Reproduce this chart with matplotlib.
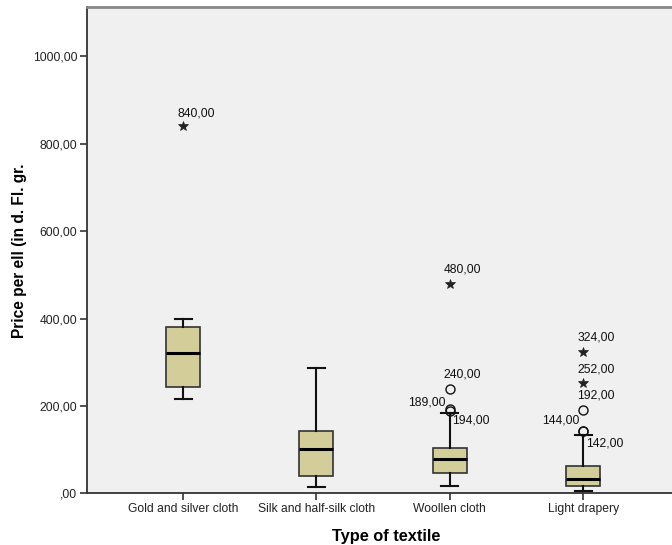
import matplotlib
matplotlib.use("Agg")
import matplotlib.pyplot as plt

plt.rcParams['font.family'] = ['Liberation Sans', 'DejaVu Sans']

categories = ["Gold and silver cloth", "Silk and half-silk cloth", "Woollen cloth", "Light drapery"]
whisker_low = [216, 14, 16, 5]
q1 = [243, 39, 48, 18]
median = [321, 101, 78, 34]
q3 = [381, 142, 103, 64]
whisker_high = [399, 287, 183, 133]

# mild outliers (circles) and extreme values (stars), with their labels
mild_values = [[], [], [189, 194, 240], [142, 144, 192]]
extreme_values = [[840], [], [480], [252, 324]]

y_ticks = [0, 200, 400, 600, 800, 1000]
y_tick_labels = [",00", "200,00", "400,00", "600,00", "800,00", "1000,00"]

box_fill = "#D3CE99"
positions = list(range(1, len(categories) + 1))

fig = plt.figure(figsize=(6.72, 5.45), dpi=100)
ax = fig.add_axes([0.1295, 0.0945, 0.8905, 0.8925])
ax.set_facecolor("#F0F0F0")

stats = []
for i in range(len(categories)):
    stats.append(dict(med=median[i], q1=q1[i], q3=q3[i],
                      whislo=whisker_low[i], whishi=whisker_high[i], fliers=[]))

ax.bxp(stats, positions=positions, widths=0.255, capwidths=0.128,
       patch_artist=True, showfliers=False,
       boxprops=dict(facecolor=box_fill, edgecolor="#333333", linewidth=1.2),
       medianprops=dict(color="black", linewidth=2.2),
       whiskerprops=dict(color="#111111", linewidth=1.5),
       capprops=dict(color="#111111", linewidth=1.5))

txt = dict(fontsize=8.7, color="#111111")
for pos, vals in zip(positions, mild_values):
    for v in vals:
        ax.plot(pos, v, marker="o", markersize=6.5, markerfacecolor="none",
                markeredgecolor="#111111", markeredgewidth=1.0, linestyle="none")

for pos, vals in zip(positions, extreme_values):
    for v in vals:
        ax.plot(pos, v, marker="*", markersize=7.5, markerfacecolor="#222222",
                markeredgecolor="#222222", markeredgewidth=0.5, linestyle="none")


def fmt(v):
    return f"{v:.2f}".replace(".", ",")


# value labels next to the outlying points
def label(pos, v, dx, dy, ha):
    ax.annotate(fmt(v), (pos, v), xytext=(dx, dy), textcoords="offset pixels",
                ha=ha, va="center", **txt)


label(1, 840, -6, 13, "left")
label(3, 480, -6, 14, "left")
label(3, 240, -6, 14, "left")
label(3, 189, -4, 8, "right")
label(3, 194, 2, -12, "left")
label(4, 324, -6, 14, "left")
label(4, 252, -6, 14, "left")
label(4, 192, -6, 14, "left")
label(4, 144, -4, 10, "right")
label(4, 142, 3, -12, "left")

ax.set_xlim(0.28, 4.767)
ax.set_ylim(0, 1112)
ax.set_xticks(positions)
ax.set_xticklabels(categories, fontsize=8.7, color="#222222")
ax.set_yticks(y_ticks)
ax.set_yticklabels(y_tick_labels, fontsize=8.7, color="#222222")
ax.tick_params(axis="both", direction="out", length=5, width=1.2, color="#333333", pad=2)

for side in ["left", "bottom"]:
    ax.spines[side].set_color("#333333")
    ax.spines[side].set_linewidth(1.3)
ax.spines["top"].set_color("#888888")
ax.spines["top"].set_linewidth(2)
ax.spines["right"].set_visible(False)

ax.set_xlabel("Type of textile", fontsize=11.8, fontweight="bold", labelpad=10)
ax.set_ylabel("Price per ell (in d. Fl. gr.", fontsize=11.2, fontweight="bold", labelpad=4)

fig.savefig("out.png", dpi=100, facecolor="white")
